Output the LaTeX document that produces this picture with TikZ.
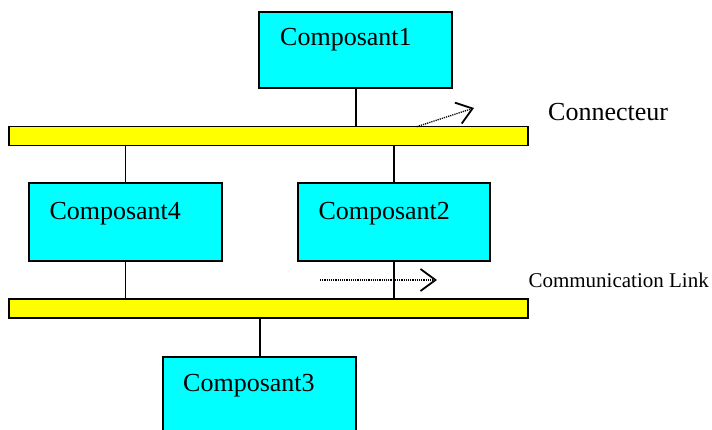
\documentclass[tikz,border=0pt]{standalone}
\usepackage{fontspec}
\setmainfont{Liberation Serif}
\usetikzlibrary{arrows.meta}
\definecolor{boxcyan}{RGB}{0,255,255}
\definecolor{busyellow}{RGB}{255,255,0}
\begin{document}
\begin{tikzpicture}[x=1pt,y=-1pt,
  comp/.style={draw=black,fill=boxcyan,line width=1.8pt,inner sep=0pt,outer sep=0pt,rectangle},
  bus/.style={draw=black,fill=busyellow,line width=1.8pt,inner sep=0pt,outer sep=0pt,rectangle,minimum width=519pt,minimum height=19pt},
  link/.style={line width=1.8pt},
  lbl/.style={anchor=base west,inner sep=0pt,font=\fontsize{26}{30}\selectfont},
  flow/.style={line width=1.3pt,dash pattern=on 1.2pt off 1pt,-{Straight Barb[length=15pt,width=22pt,line width=1.8pt]}}]
\useasboundingbox (0,0) rectangle (712,430);
\begin{scope}
\clip (0,0) rectangle (712,430);
% buses
\node[bus] (bus1) at (268.8,136.1) {};
\node[bus] (bus2) at (268.8,308.5) {};
% components
\node[comp,minimum width=192.7pt,minimum height=76.6pt] (c1) at (355.7,50) {};
\node[comp,minimum width=192.4pt,minimum height=77.7pt] (c4) at (125.5,222.2) {};
\node[comp,minimum width=192.3pt,minimum height=77.7pt] (c2) at (393.9,222.2) {};
\node[comp,minimum width=192.7pt,minimum height=90pt] (c3) at (259.7,401.7) {};
\end{scope}
% labels
\node[lbl] (t1) at (280,46) {Composant1};
\node[lbl] (t4) at (49.3,219.3) {Composant4};
\node[lbl] (t2) at (318.3,219.3) {Composant2};
\node[lbl] (t3) at (183,391.7) {Composant3};
\node[lbl] (tcon) at (548,121) {Connecteur};
\node[anchor=base west,inner sep=0pt,font=\fontsize{21}{25}\selectfont] (tlink) at (528.3,288) {Communication Link};
% links
\draw[link] (c1.south) -- (c1.south |- bus1.north);
\draw[link] (bus1.south -| c4.north) -- (c4.north);
\draw[link] (bus1.south -| c2.north) -- (c2.north);
\draw[link] (c4.south) -- (c4.south |- bus2.north);
\draw[link] (c2.south) -- (c2.south |- bus2.north);
\draw[link] (bus2.south -| c3.north) -- (c3.north);
% flow arrows
\coordinate (a1s) at (416.7,126.7);
\coordinate (a1e) at (474,108);
\coordinate (a2s) at (320,280);
\coordinate (a2e) at (437,280);
\draw[flow] (a1s) -- (a1e);
\draw[flow] (a2s) -- (a2e);
\end{tikzpicture}
\end{document}
